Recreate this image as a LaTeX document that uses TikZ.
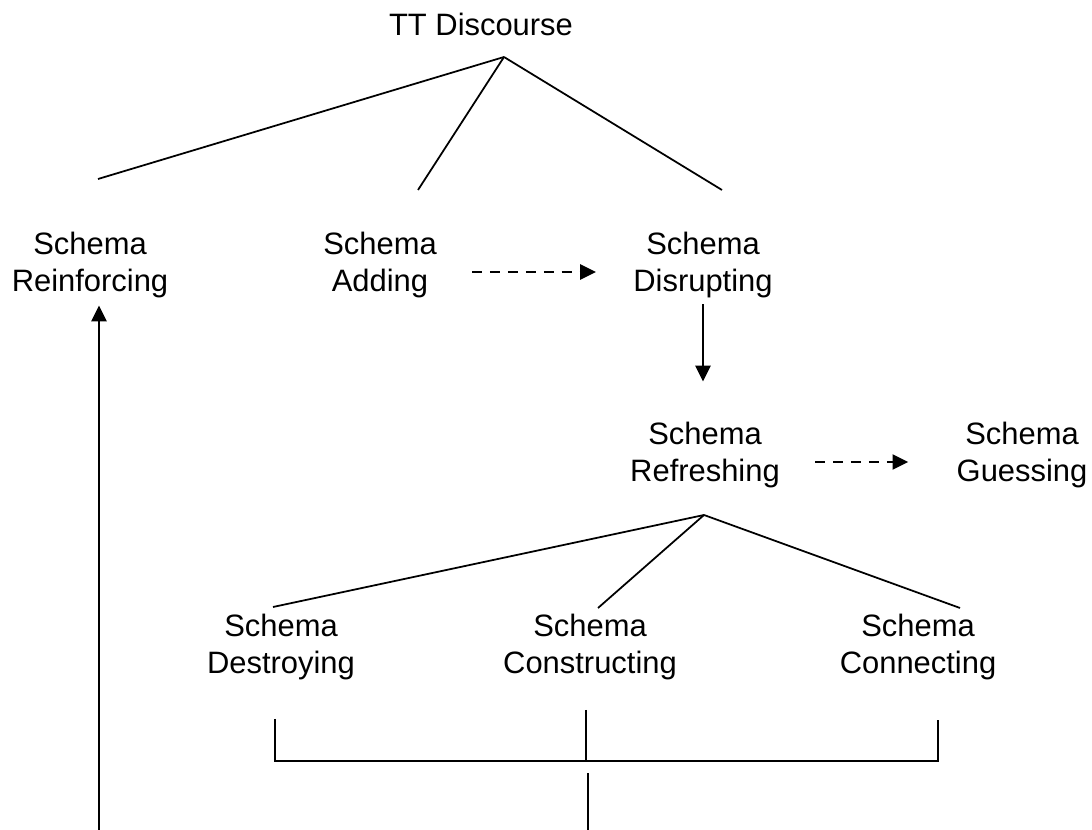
\documentclass[tikz,border=0pt]{standalone}
\usepackage{fontspec}
\setmainfont{Liberation Sans}
\usetikzlibrary{arrows.meta}

\tikzset{
  schema/.style={align=center, inner sep=0pt, font=\fontsize{17.6pt}{21.3pt}\selectfont},
  twig/.style={line width=1pt},
  bar/.style={line width=1.4pt},
  push/.style={line width=1.4pt, -{Triangle[length=9pt,width=8.5pt]}},
  hint/.style={push, dash pattern=on 5.7pt off 4.5pt},
}

\begin{document}
\begin{tikzpicture}[x=0.02cm, y=-0.02cm]
		%%%%% START %%%%%
		\useasboundingbox (0, 0) rectangle (1092, 830);

		\node[schema] (tt) at (481, 24) {TT Discourse};
		\node[schema] (reinf) at (90, 265) {Schema\\Reinforcing};
		\node[schema] (add) at (380, 265) {Schema\\Adding};
		\node[schema] (disr) at (703, 265) {Schema\\Disrupting};
		\node[schema] (refr) at (705, 455) {Schema\\Refreshing};
		\node[schema] (guess) at (1022, 455) {Schema\\Guessing};
		\node[schema] (destr) at (281, 647) {Schema\\Destroying};
		\node[schema] (constr) at (590, 647) {Schema\\Constructing};
		\node[schema] (conn) at (918, 647) {Schema\\Connecting};

		% first fork
		\coordinate (forka) at (504, 57);
		\coordinate (reinfend) at (98, 179);
		\coordinate (addend) at (418, 190);
		\coordinate (disrend) at (722, 190);
		\draw[twig] (forka) -- (reinfend);
		\draw[twig] (forka) -- (addend);
		\draw[twig] (forka) -- (disrend);

		% second fork
		\coordinate (forkb) at (704, 515);
		\coordinate (destrend) at (273, 607);
		\coordinate (constrend) at (598, 608);
		\coordinate (connend) at (960, 608);
		\draw[twig] (forkb) -- (destrend);
		\draw[twig] (forkb) -- (constrend);
		\draw[twig] (forkb) -- (connend);

		% arrows
		\draw[hint, shorten <=0.7cm, shorten >=0.74cm] ([yshift=-0.14cm]add.east) -- ([yshift=-0.14cm]disr.west);
		\draw[push, shorten <=0.12cm, shorten >=0.8cm] (disr.south) -- (disr.south |- refr.north);
		\draw[hint, shorten <=0.7cm, shorten >=0.96cm] ([yshift=-0.14cm]refr.east) -- ([yshift=-0.14cm]guess.west);

		% bracket
		\coordinate (postl) at (275, 719);
		\coordinate (postm) at (586, 710);
		\coordinate (postr) at (938, 720);
		\coordinate (base) at (586, 761);
		\draw[bar] (postl) -- (postl |- base) -- (postr |- base) -- (postr);
		\draw[bar] (postm) -- (base);
		\coordinate (stemtop) at (588, 773);
		\coordinate (stembot) at (588, 830);
		\draw[bar] (stemtop) -- (stembot);

		% way back up
		\coordinate (floorl) at (99, 830);
		\draw[push, shorten >=0.14cm] (floorl) -- (floorl |- reinf.south);
		%%%%% END %%%%%
\end{tikzpicture}
\end{document}
